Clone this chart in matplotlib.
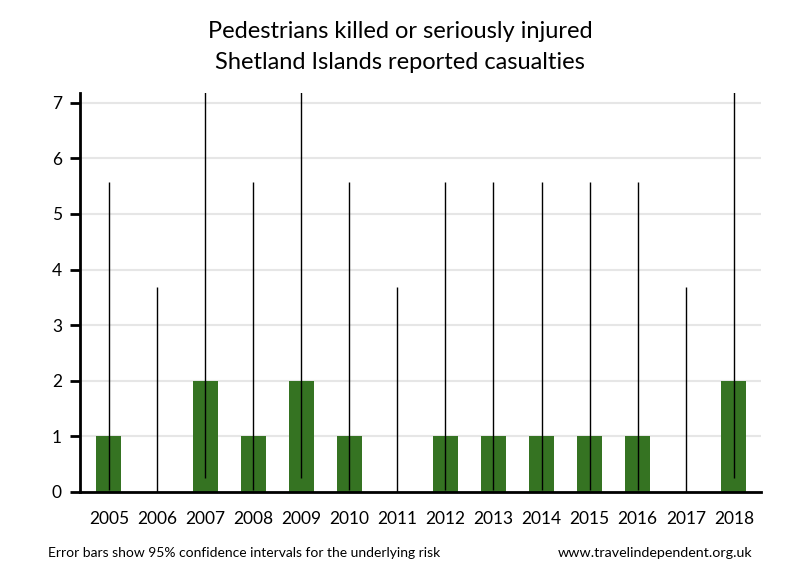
import matplotlib
matplotlib.use("Agg")
import matplotlib.pyplot as plt
import numpy as np

plt.rcParams['font.family'] = ['Lato', 'DejaVu Sans']

years = ['2005', '2006', '2007', '2008', '2009', '2010', '2011', '2012',
         '2013', '2014', '2015', '2016', '2017', '2018']
values = [1, 0, 2, 1, 2, 1, 0, 1, 1, 1, 1, 1, 0, 2]
ci_low = [0.025, 0.0, 0.242, 0.025, 0.242, 0.025, 0.0, 0.025,
          0.025, 0.025, 0.025, 0.025, 0.0, 0.242]
ci_high = [5.57, 3.69, 7.22, 5.57, 7.22, 5.57, 3.69, 5.57,
           5.57, 5.57, 5.57, 5.57, 3.69, 7.22]

fig = plt.figure(figsize=(8, 5.8), dpi=100)
ax = fig.add_axes([0.1, 0.152, 0.851, 0.688])

x = np.arange(len(years))
ax.bar(x, values, width=0.52, color='#357322', zorder=2)
ax.vlines(x, ci_low, ci_high, color='black', linewidth=1, zorder=3)

ax.set_xlim(-0.6, len(years) - 1 + 0.56)
ax.set_ylim(0, 7.18)
ax.set_yticks(range(0, 8))
ax.yaxis.grid(True, color='#e6e6e6', linewidth=1.5, zorder=0)
ax.set_axisbelow(True)

ax.set_xticks(x)
ax.set_xticklabels(years, fontsize=12.5)
ax.tick_params(axis='x', length=0, pad=14)
ax.tick_params(axis='y', length=7, width=2, labelsize=12.5, pad=6)

for s in ['top', 'right']:
    ax.spines[s].set_visible(False)
ax.spines['left'].set_linewidth(2)
ax.spines['bottom'].set_linewidth(2)

fig.text(0.5, 0.945, 'Pedestrians killed or seriously injured', ha='center', va='center', fontsize=17)
fig.text(0.5, 0.893, 'Shetland Islands reported casualties', ha='center', va='center', fontsize=17)

fig.text(0.06, 0.046, 'Error bars show 95% confidence intervals for the underlying risk', ha='left', va='center', fontsize=10)
fig.text(0.94, 0.046, 'www.travelindependent.org.uk', ha='right', va='center', fontsize=10.3)

fig.savefig('out.png', dpi=100)
